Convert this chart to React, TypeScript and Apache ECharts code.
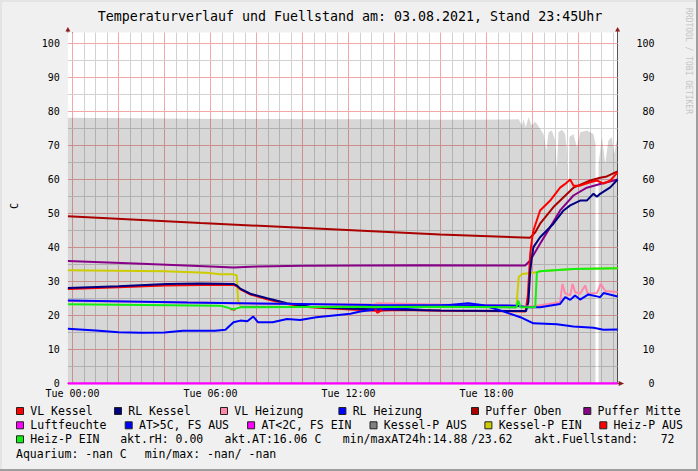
import React, { useEffect, useRef } from 'react';
import * as echarts from 'echarts';

type P = [number, number | null];

const titleText = 'Temperaturverlauf und Fuellstand am: 03.08.2021, Stand 23:45Uhr';
const yAxisName = 'C';
const watermarkText = 'RRDTOOL / TOBI OETIKER';
const timeTickHours = [0, 6, 12, 18];
const timeTickLabels = ['Tue 00:00', 'Tue 06:00', 'Tue 12:00', 'Tue 18:00'];
const xMin = -0.2;
const xMax = 23.7;
const yMin = 0;
const yMax = 103.24;

// Fuellstand (gray area)
const fuellstand: P[] = [
  [-0.2, 78.2], [1, 78.1], [3, 78.0], [5, 77.9], [7, 77.8], [9, 77.8], [11, 77.7], [13, 77.7],
  [15, 77.6], [17, 77.6], [19.4, 77.7], [19.54, 75.9], [19.61, 77.8], [19.7, 75.4], [19.83, 78.3],
  [19.97, 75.9], [20.1, 77.0], [20.19, 76.4], [20.33, 74.9], [20.48, 73.4], [20.6, 68.5], [20.7, 73.9],
  [20.84, 74.4], [20.99, 71.5], [21.06, 63.1], [21.13, 73.9], [21.28, 74.6], [21.42, 73.4], [21.5, 68.5],
  [21.56, 43.0], [21.6, 72.5], [21.78, 73.4], [21.93, 69.5], [22.07, 73.9], [22.36, 74.4], [22.65, 73.4],
  [22.74, 70.5], [22.78, null], [22.87, 64.6], [23.02, 72.5], [23.16, 64.6], [23.3, 71.5], [23.45, 72.5],
  [23.55, 67.5], [23.7, 72.5],
];

const pufferOben: P[] = [
  [-0.2, 49.2], [5.57, 47.2], [15.98, 43.8], [19.9, 42.9], [20.12, 44.5], [20.33, 47.0], [20.91, 51.9],
  [21.78, 57.6], [22.51, 59.7], [22.94, 60.5], [23.23, 60.9], [23.7, 62.4],
];

const pufferMitte: P[] = [
  [-0.2, 36.0], [3, 35.2], [6, 34.4], [7.0, 34.1], [8, 34.4], [10, 34.6], [15, 34.8], [19.68, 34.7],
  [19.9, 36.2], [20.33, 41.1], [20.77, 46.0], [21.2, 50.9], [21.78, 55.3], [22.36, 57.6], [22.94, 58.7],
  [23.7, 60.0],
];

const vlKessel: P[] = [
  [-0.2, 27.8], [2, 28.3], [4, 28.8], [5.6, 29.0], [7.0, 29.0], [7.15, 28.6], [7.3, 27.7], [7.73, 26.2],
  [8.46, 24.8], [9.33, 23.4], [10.34, 22.4], [12.08, 21.8], [13.2, 21.4], [14.25, 21.6], [16, 21.4],
  [19.7, 21.2], [19.8, 26.0], [19.9, 38.0], [19.97, 42.0], [20.04, 45.0], [20.33, 50.9], [20.77, 53.8],
  [21.2, 57.6], [21.42, 58.7], [21.64, 60.0], [21.78, 58.2], [22.07, 58.2], [22.51, 59.2], [22.8, 59.7],
  [23.09, 58.8], [23.38, 59.7], [23.7, 62.1],
];

const rlKessel: P[] = [
  [-0.2, 28.1], [2, 28.6], [4.1, 29.3], [5.6, 29.4], [7.0, 29.3], [7.15, 28.8], [7.29, 27.9], [7.73, 26.4],
  [8.46, 25.1], [9.33, 23.6], [10.34, 22.6], [12.08, 22.0], [14.25, 21.7], [16, 21.5], [19.72, 21.3],
  [19.82, 24.0], [19.9, 33.0], [19.97, 37.0], [20.04, 40.1], [20.33, 43.0], [20.91, 47.0], [21.35, 50.9],
  [21.64, 52.4], [22.07, 53.8], [22.36, 53.8], [22.65, 55.8], [22.8, 54.9], [22.94, 55.8], [23.38, 57.7],
  [23.7, 60.0],
];

const vlHeizung: P[] = [
  [-0.2, 24.3], [5, 23.8], [9.9, 23.4], [13.1, 23.2], [13.25, 23.6], [16, 23.2], [19.3, 22.9], [19.68, 22.6],
  [20.19, 22.9], [21.2, 23.9], [21.3, 29.3], [21.42, 26.5], [21.64, 25.9], [21.74, 29.3], [21.85, 26.9],
  [22.07, 26.4], [22.29, 28.8], [22.4, 26.4], [22.8, 26.6], [22.97, 29.3], [23.16, 27.2], [23.7, 26.9],
];

const rlHeizung: P[] = [
  [-0.2, 24.4], [5, 23.8], [9.9, 23.4], [13, 23.1], [16, 23.0], [19.3, 22.9], [19.78, 22.4], [20.33, 22.4],
  [21.2, 23.4], [21.42, 25.4], [21.64, 24.6], [21.85, 25.9], [22.07, 24.7], [22.43, 26.2], [22.94, 25.4],
  [23.09, 26.6], [23.7, 25.6],
];

const aussenTemp: P[] = [
  [-0.2, 16.1], [1, 15.6], [2, 15.1], [3, 14.9], [4, 15.0], [4.8, 15.5], [6.2, 15.5], [6.65, 15.8],
  [7.0, 18.0], [7.3, 18.5], [7.6, 18.3], [7.86, 19.7], [8.07, 18.0], [8.7, 18.0], [9.33, 19.0], [9.9, 18.7],
  [10.6, 19.5], [11.35, 20.0], [12.08, 20.5], [12.51, 21.2], [13.1, 21.7], [13.67, 21.9], [14.5, 22.2],
  [15.5, 22.6], [16.5, 23.2], [17.2, 23.6], [17.8, 23.1], [18.6, 21.5], [19.47, 19.5], [20.04, 17.7],
  [21.06, 17.4], [21.78, 16.8], [22.65, 16.4], [23.09, 15.8], [23.7, 15.9],
];

const kesselPEin: P[] = [
  [-0.2, 33.3], [4, 33.0], [5.8, 32.6], [6.43, 32.1], [7.0, 32.1], [7.14, 31.8], [7.2, 24.4], [7.3, 22.9],
  [7.35, null], [19.3, 22.4], [19.4, 31.3], [19.55, 32.2], [20.19, 32.7], [20.3, 33.0], [21.78, 33.7],
  [23.7, 33.9],
];

const kesselPAus: P[] = [[7.3, 22.6], [9.9, 22.5], [16, 22.6], [19.3, 22.4]];

const heizPEin: P[] = [
  [-0.2, 23.3], [6.4, 22.9], [6.7, 22.4], [7.0, 21.8], [7.29, 22.4], [9.9, 22.5], [16, 22.6], [19.3, 22.4],
  [19.38, 24.4], [19.48, 22.4], [20.12, 22.4], [20.19, 32.7], [20.3, 33.0], [21.78, 33.7], [23.7, 33.9],
];

const heizPAus: P[] = [
  [6.86, 21.9], [7.08, 21.7], [7.15, null], [13.16, 21.9], [13.25, 20.8], [13.45, 21.6],
];

const luftfeuchte: P[] = [[-0.2, 0], [23.7, 0]];

const legendRow1Names = ['VL Kessel', 'RL Kessel', 'VL Heizung', 'RL Heizung', 'Puffer Oben', 'Puffer Mitte'];
const legendRow1Colors = ['#ff0000', '#000080', '#ff88aa', '#0000ff', '#aa0000', '#880088'];
const legendRow2Names = ['Luftfeuchte', 'AT>5C, FS AUS', 'AT<2C, FS EIN', 'Kessel-P AUS', 'Kessel-P EIN', 'Heiz-P AUS'];
const legendRow2Colors = ['#ff00ff', '#0000ff', '#ff00ff', '#808080', '#cccc00', '#ff0000'];
const legendRow3Names = ['Heiz-P EIN'];
const legendRow3Colors = ['#11ee11'];
const infoRow3 = ['akt.rH: 0.00', 'akt.AT:16.06 C', 'min/maxAT24h:14.88', '/23.62', 'akt.Fuellstand:', '72'];
const infoRow4 = ['Aquarium: -nan C', 'min/max: -nan/ -nan'];

// grid steps (hours / degrees)
const xMinorStep = 0.5;
const xMajorEvery = 4; // every 2 h
const yMinorStep = 5;
const yMajorEvery = 2; // every 10

// layout (pixels)
const W = 698;
const H = 471;
const plotLeft = 67.9;
const plotTop = 32.5;
const plotW = 549.7;
const plotH = 351;
const row1X = [16, 114, 220, 338.4, 471, 583.3];
const row2X = [16, 124.7, 247.1, 369.5, 484.4, 599.3];
const row3X = [16];
const info3X = [120.2, 224.4, 342.8, 471, 534.3, 660.7];
const info4X = [16, 144.7];
const rowY = [411, 425.3, 439.3, 453.7];

const MONO = '"DejaVu Sans Mono", "Liberation Mono", monospace';
const LEG_FONT = `11.5px ${MONO}`;
const MAJOR = '#f2a8a8';
const MINOR = '#d2d2d2';
const AXIS = '#555555';
const ARROW = '#8b1a1a';

function swatches(names: string[], colors: string[], xs: number[], y: number): any[] {
  const out: any[] = [];
  names.forEach((n, i) => {
    out.push({
      type: 'rect',
      shape: { x: xs[i] + 0.5, y: y - 3.5, width: 7, height: 7 },
      style: { fill: colors[i], stroke: '#222222', lineWidth: 1 },
    });
    out.push({
      type: 'text',
      x: xs[i] + 14.3,
      y,
      style: { text: n, font: LEG_FONT, fill: '#000', align: 'left', verticalAlign: 'middle' },
    });
  });
  return out;
}

function texts(items: string[], xs: number[], y: number): any[] {
  return items.map((t, i) => ({
    type: 'text',
    x: xs[i],
    y,
    style: { text: t, font: LEG_FONT, fill: '#000', align: 'left', verticalAlign: 'middle' },
  }));
}

function line(name: string, data: P[], color: string, width = 2): any {
  return {
    name,
    type: 'line',
    z: 3,
    data,
    showSymbol: false,
    symbol: 'none',
    connectNulls: false,
    lineStyle: { color, width },
    itemStyle: { color },
    silent: true,
  };
}

// snap a vertical grid line to the pixel centre so it renders crisp
function snapX(v: number): number {
  const k = plotW / (xMax - xMin);
  const px = plotLeft + (v - xMin) * k;
  const snapped = Math.floor(px) + 0.5;
  return xMin + (snapped - plotLeft) / k;
}

export default function App() {
  const ref = useRef<HTMLDivElement>(null);

  useEffect(() => {
    if (!ref.current) return;
    const chart = echarts.init(ref.current, null, { renderer: 'svg' });

    const gridLines: any[] = [];
    for (let k = 0; k * xMinorStep <= xMax; k++) {
      gridLines.push({ xAxis: snapX(k * xMinorStep), lineStyle: { color: k % xMajorEvery === 0 ? MAJOR : MINOR } });
    }
    for (let k = 1; k * yMinorStep <= 100; k++) {
      gridLines.push({ yAxis: k * yMinorStep, lineStyle: { color: k % yMajorEvery === 0 ? MAJOR : MINOR } });
    }

    const plotRight = plotLeft + plotW;
    const plotBottom = plotTop + plotH;

    const graphic: any[] = [
      { type: 'rect', shape: { x: 0, y: 0, width: W, height: 2 }, style: { fill: '#e4e4e4' } },
      { type: 'rect', shape: { x: 0, y: 0, width: 2, height: H }, style: { fill: '#e4e4e4' } },
      { type: 'rect', shape: { x: W - 2, y: 0, width: 2, height: H }, style: { fill: '#9e9e9e' } },
      { type: 'rect', shape: { x: 0, y: H - 2, width: W, height: 2 }, style: { fill: '#9e9e9e' } },
      {
        type: 'text', x: 350, y: 16,
        style: { text: titleText, font: `13.3px ${MONO}`, fill: '#000', align: 'center', verticalAlign: 'middle' },
      },
      {
        type: 'text', x: 688, y: 61, rotation: -Math.PI / 2,
        style: { text: watermarkText, font: `8px ${MONO}`, fill: '#c4c4c4', align: 'center', verticalAlign: 'middle' },
      },
      {
        type: 'text', x: 14, y: 206, rotation: Math.PI / 2,
        style: { text: yAxisName, font: `10px ${MONO}`, fill: '#000', align: 'center', verticalAlign: 'middle' },
      },
      { type: 'line', shape: { x1: plotLeft, y1: plotTop, x2: plotLeft, y2: plotTop - 2 }, style: { stroke: AXIS, lineWidth: 1 } },
      { type: 'line', shape: { x1: plotRight, y1: plotTop, x2: plotRight, y2: plotTop - 2 }, style: { stroke: AXIS, lineWidth: 1 } },
      { type: 'line', shape: { x1: plotRight, y1: plotBottom, x2: plotRight + 2, y2: plotBottom }, style: { stroke: AXIS, lineWidth: 1 } },
      { type: 'polygon', shape: { points: [[plotLeft - 2.5, plotTop - 1], [plotLeft + 2.5, plotTop - 1], [plotLeft, plotTop - 5.5]] }, style: { fill: ARROW } },
      { type: 'polygon', shape: { points: [[plotRight - 2.5, plotTop - 1], [plotRight + 2.5, plotTop - 1], [plotRight, plotTop - 5.5]] }, style: { fill: ARROW } },
      { type: 'polygon', shape: { points: [[plotRight + 1, plotBottom - 2.5], [plotRight + 1, plotBottom + 2.5], [plotRight + 6.5, plotBottom]] }, style: { fill: ARROW } },
      ...swatches(legendRow1Names, legendRow1Colors, row1X, rowY[0]),
      ...swatches(legendRow2Names, legendRow2Colors, row2X, rowY[1]),
      ...swatches(legendRow3Names, legendRow3Colors, row3X, rowY[2]),
      ...texts(infoRow3, info3X, rowY[2]),
      ...texts(infoRow4, info4X, rowY[3]),
    ];

    const yLabel = (v: number) => (Math.abs(v % 10) < 1e-6 ? String(Math.round(v)) : '');

    chart.setOption({
      animation: false,
      backgroundColor: '#f0f0f0',
      grid: {
        left: plotLeft, top: plotTop, width: plotW, height: plotH,
        show: true, backgroundColor: '#ffffff', borderWidth: 0, containLabel: false, outerBoundsMode: 'none',
      },
      xAxis: {
        type: 'value', min: xMin, max: xMax, interval: 0.1,
        axisLine: { show: true, onZero: false, lineStyle: { color: AXIS, width: 1 } },
        axisTick: { show: false },
        axisLabel: {
          show: true, margin: 5, color: '#000', fontFamily: MONO, fontSize: 10,
          showMinLabel: true, showMaxLabel: true,
          formatter: (v: number) => {
            const r = Math.round(v * 10) / 10;
            const idx = timeTickHours.indexOf(r);
            return idx >= 0 ? timeTickLabels[idx] : '';
          },
        },
        splitLine: { show: false },
      },
      yAxis: [
        {
          type: 'value', min: yMin, max: yMax, interval: 5, position: 'left',
          axisLine: { show: true, lineStyle: { color: AXIS, width: 1 } },
          axisTick: { show: false },
          axisLabel: { margin: 8, color: '#000', fontFamily: MONO, fontSize: 10, formatter: yLabel },
          splitLine: { show: false },
        },
        {
          type: 'value', min: yMin, max: yMax, interval: 5, position: 'right',
          axisLine: { show: true, lineStyle: { color: AXIS, width: 1 } },
          axisTick: { show: false },
          axisLabel: { margin: 37, align: 'right', color: '#000', fontFamily: MONO, fontSize: 10, formatter: yLabel },
          splitLine: { show: false },
        },
      ],
      series: [
        {
          name: 'grid', type: 'line', z: 1, data: [[xMin, null]], showSymbol: false, symbol: 'none', silent: true,
          lineStyle: { width: 0 },
          markLine: {
            z: 1, zlevel: 0,
            silent: true, symbol: ['none', 'none'], label: { show: false }, animation: false,
            emphasis: { disabled: true },
            lineStyle: { width: 1, type: 'solid' },
            data: gridLines,
          },
        },
        {
          name: 'Fuellstand', type: 'line', z: 2, data: fuellstand, showSymbol: false, symbol: 'none',
          connectNulls: false, lineStyle: { width: 0, color: 'rgba(0,0,0,0)' },
          areaStyle: { color: 'rgba(0,0,0,0.155)', opacity: 1 }, silent: true,
        },
        line('Puffer Oben', pufferOben, '#aa0000'),
        line('Puffer Mitte', pufferMitte, '#880088'),
        line('Kessel-P AUS', kesselPAus, '#808080'),
        line('Kessel-P EIN', kesselPEin, '#cccc00'),
        line('VL Kessel', vlKessel, '#ff0000'),
        line('RL Kessel', rlKessel, '#000080'),
        line('VL Heizung', vlHeizung, '#ff88aa'),
        line('RL Heizung', rlHeizung, '#0000ff'),
        line('AT>5C, FS AUS', aussenTemp, '#0000ff'),
        line('Heiz-P AUS', heizPAus, '#ff0000'),
        line('Heiz-P EIN', heizPEin, '#11ee11'),
        line('Luftfeuchte', luftfeuchte, '#ff00ff', 2.5),
      ],
      graphic,
    });

    return () => chart.dispose();
  }, []);

  return (
    <div
      ref={ref}
      style={{ position: 'absolute', left: 0, top: 0, width: W, height: H }}
    />
  );
}
